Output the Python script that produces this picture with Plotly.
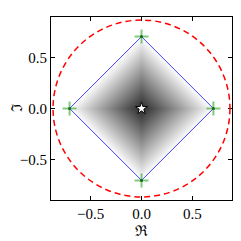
import numpy as np
import plotly.graph_objects as go

# --- data ---
vertex_x = [0.7071, -0.7071, 0.0, 0.0]
vertex_y = [0.0, 0.0, 0.7071, -0.7071]
outline_x = [0.7071, 0.0, -0.7071, 0.0, 0.7071]
outline_y = [0.0, 0.7071, 0.0, -0.7071, 0.0]
center_x = [0.0]
center_y = [0.0]
circle_radius = 0.87
tick_vals = [-0.5, 0.0, 0.5]
tick_text = ["\u22120.5", "0.0", "0.5"]
half_diag = 0.7071

# --- shading: linear (Gouraud-like) from the centre to the edge of the diamond ---
N = 241
g = np.linspace(-half_diag, half_diag, N)
X, Y = np.meshgrid(g, g)
val = (np.abs(X) + np.abs(Y)) / half_diag
val = np.where(val <= 1.0, val, np.nan)

fig = go.Figure()
fig.add_trace(go.Heatmap(
    x=g, y=g, z=val, zmin=0, zmax=1,
    colorscale=[[0, "#2a2a2a"], [1, "#ffffff"]],
    showscale=False, hoverinfo="skip", zsmooth="best"))

fig.add_shape(type="circle", xref="x", yref="y",
              x0=-circle_radius, x1=circle_radius,
              y0=-circle_radius, y1=circle_radius,
              line=dict(color="red", width=1.5, dash="6px,4px"))

fig.add_trace(go.Scatter(x=outline_x, y=outline_y, mode="lines",
                         line=dict(color="#1010ff", width=0.8),
                         hoverinfo="skip"))
fig.add_trace(go.Scatter(x=vertex_x, y=vertex_y, mode="markers",
                         marker=dict(symbol="cross-thin", size=10,
                                     line=dict(color="rgba(0,150,0,0.5)", width=2)),
                         hoverinfo="skip"))
fig.add_trace(go.Scatter(x=vertex_x, y=vertex_y, mode="markers",
                         marker=dict(symbol="circle", size=3, color="#1a6a1a"),
                         hoverinfo="skip"))
fig.add_trace(go.Scatter(x=center_x, y=center_y, mode="markers",
                         marker=dict(symbol="star", size=9, color="white",
                                     line=dict(color="black", width=1)),
                         hoverinfo="skip"))

axis_common = dict(
    showgrid=False, zeroline=False, showline=True, linecolor="black",
    linewidth=1.2, mirror="ticks", ticks="inside", ticklen=4,
    tickcolor="black", tickvals=tick_vals, ticktext=tick_text,
    tickfont=dict(family="Liberation Serif", size=15, color="black"),
    automargin=False,
)
fig.update_xaxes(range=[-0.89, 0.89], title=dict(text="\u211c", standoff=2,
                 font=dict(family="DejaVu Serif", size=15, color="black")),
                 **axis_common)
fig.update_yaxes(range=[-0.9, 0.9], title=dict(text="\u2111", standoff=6,
                 font=dict(family="DejaVu Serif", size=15, color="black")),
                 **axis_common)

# page body has an 8px margin, so the figure is 233 px and offset accordingly
fig.update_layout(width=233, height=233, showlegend=False,
                  margin=dict(l=43, r=9, t=9, b=41),
                  plot_bgcolor="white", paper_bgcolor="white")
fig.write_html("out.html")
